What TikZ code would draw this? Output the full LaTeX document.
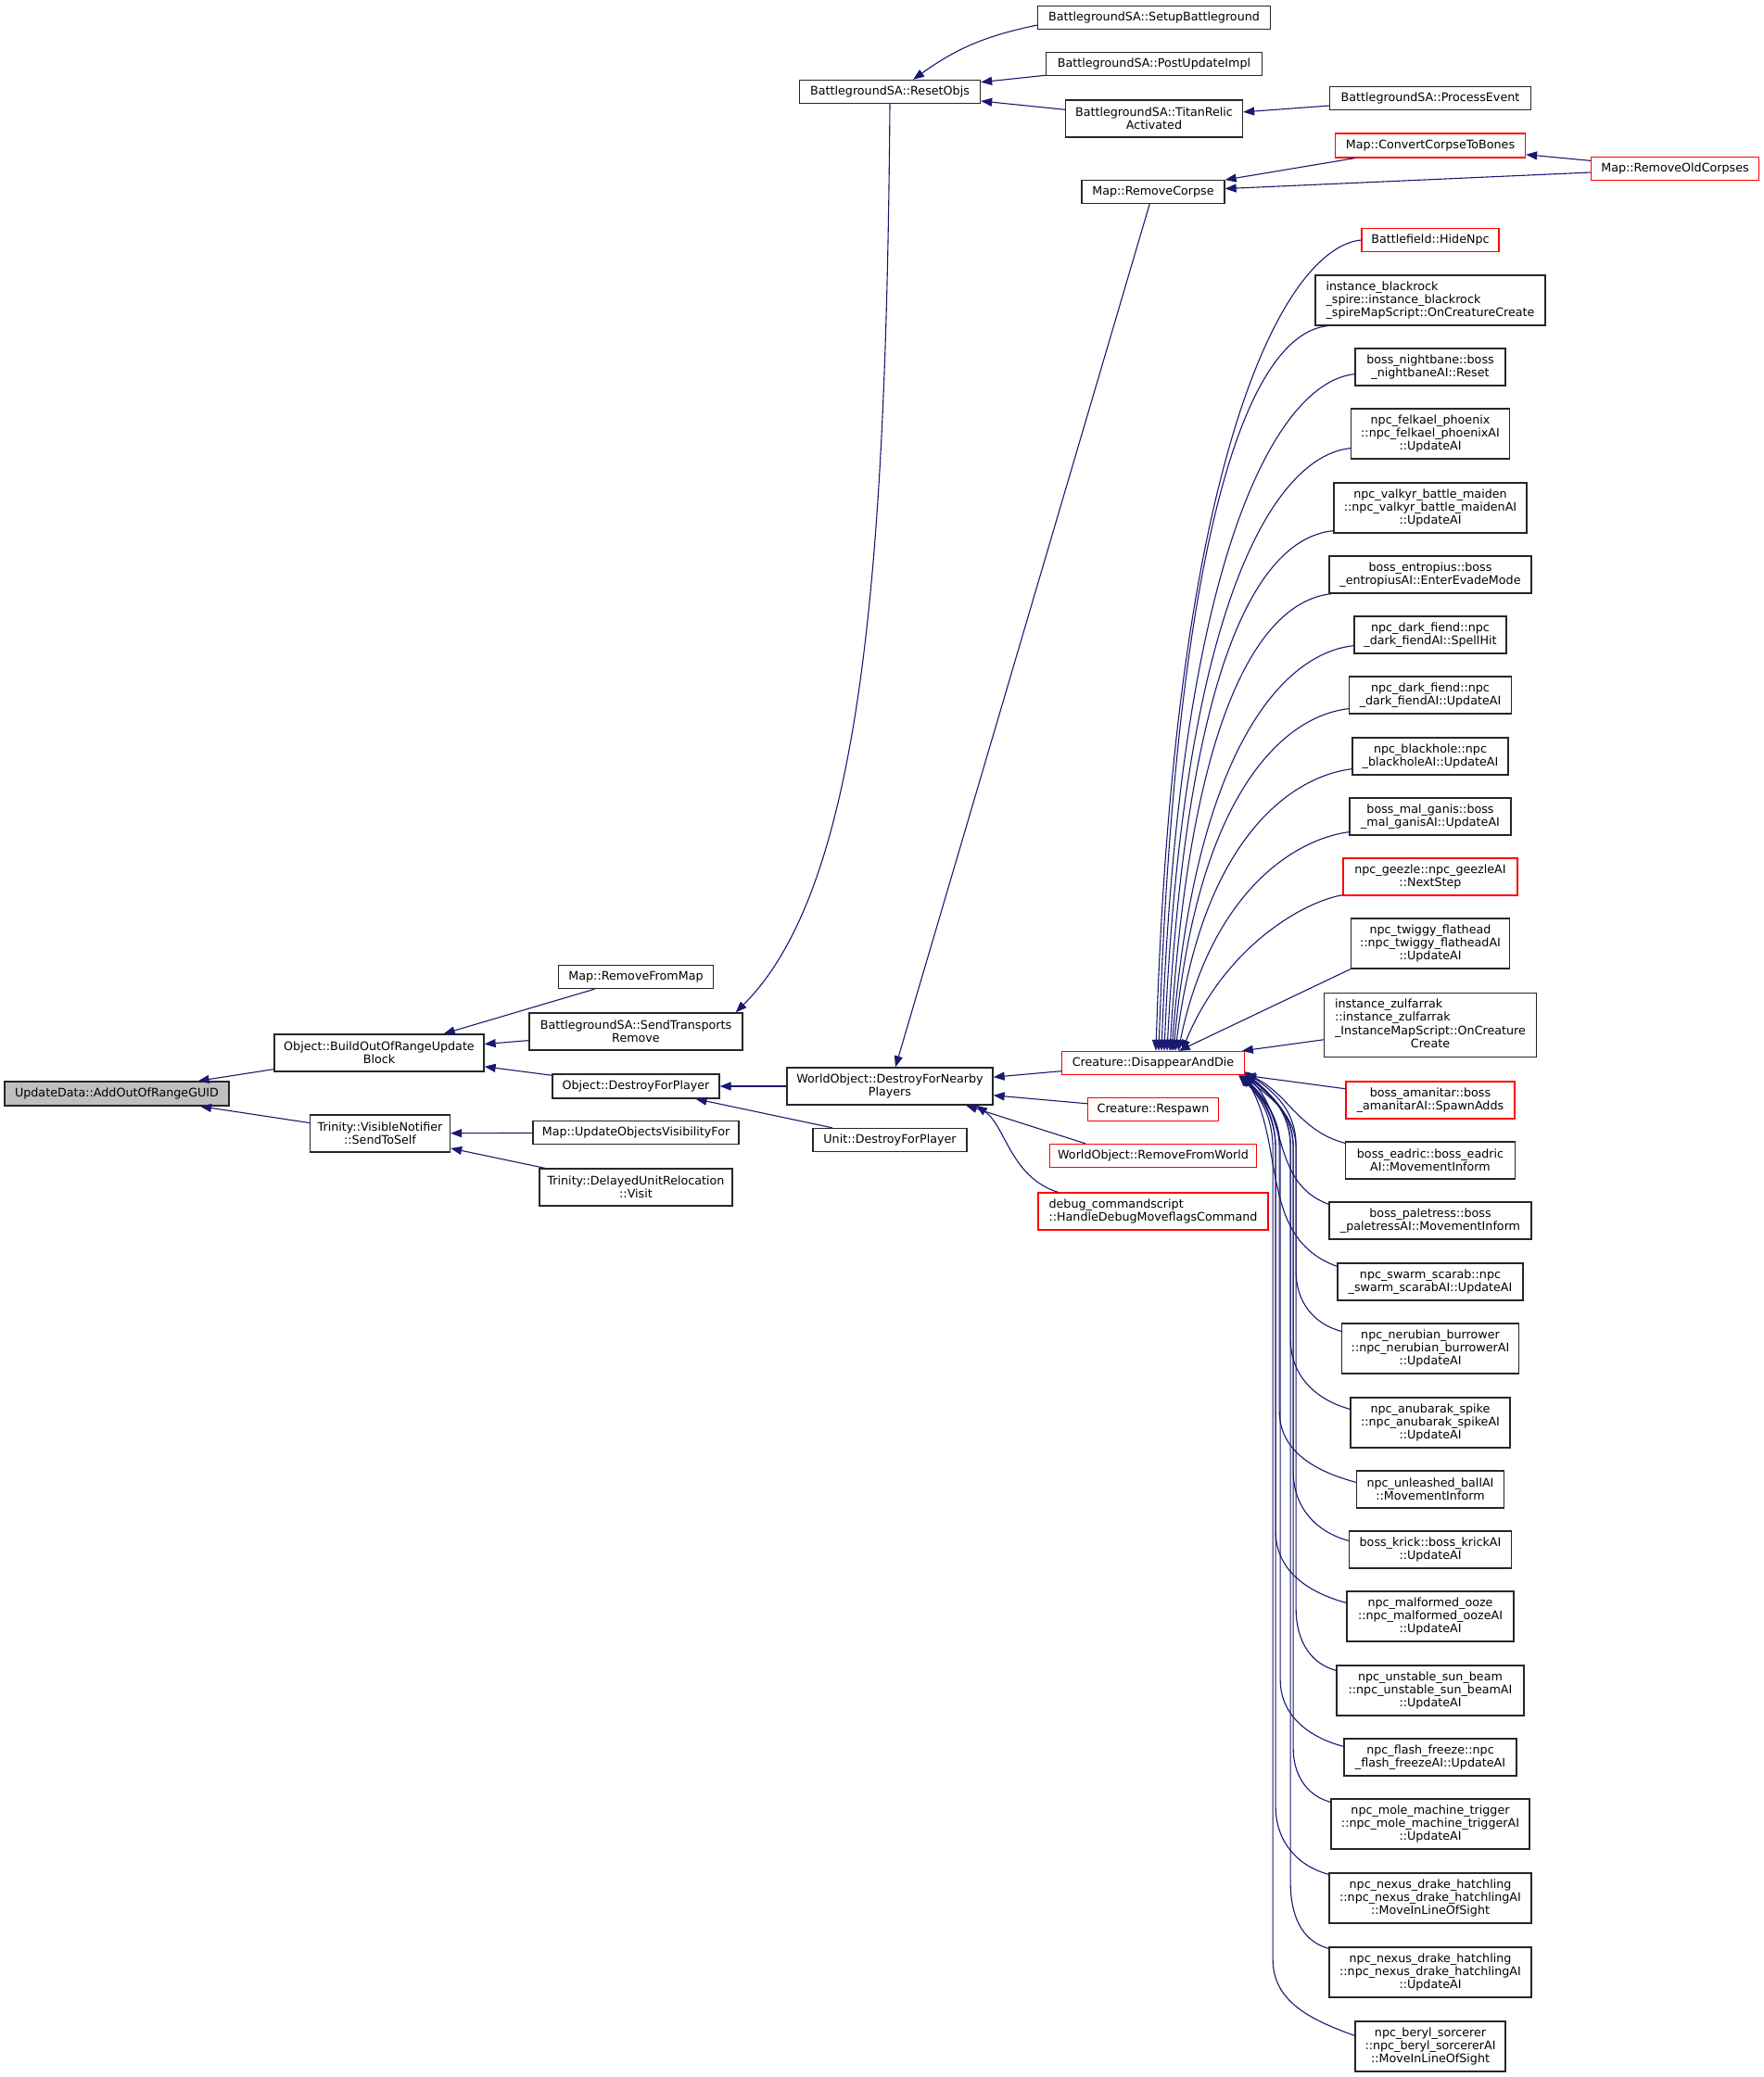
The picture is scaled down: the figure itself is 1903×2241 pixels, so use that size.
\documentclass[tikz,border=0pt]{standalone}
\usepackage{fontspec}
\setmainfont{DejaVu Sans}
\usetikzlibrary{arrows.meta}
\definecolor{edgeblue}{HTML}{191970}
\definecolor{rootgray}{HTML}{BFBFBF}

\begin{document}
\begin{tikzpicture}[x=1pt,y=-1pt,
  fn/.style={draw=black!85,line width=1.3pt,fill=white,inner sep=0pt,align=center,
    font=\fontsize{12.7}{14.3}\selectfont},
  fnred/.style={fn,draw=red},
  sz/.style 2 args={minimum width=#1pt,minimum height=#2pt},
  calls/.style={draw=edgeblue,line width=1.1pt,<-,>={Triangle[length=12pt,width=9pt]}}]
\useasboundingbox (0,0) rectangle (1903,2241);

\node[fn,fill=rootgray,sz={242}{26}] (ud) at (126,1180) {UpdateData::AddOutOfRangeGUID};
\node[fn,sz={226}{40}] (bo) at (409,1136) {Object::BuildOutOfRangeUpdate\\Block};
\node[fn,sz={151}{40}] (vn) at (410,1223) {Trinity::VisibleNotifier\\::SendToSelf};
\node[fn,sz={167}{25}] (rfm) at (686,1054) {Map::RemoveFromMap};
\node[fn,sz={230}{40}] (str) at (686,1113) {BattlegroundSA::SendTransports\\Remove};
\node[fn,sz={180}{26}] (dfp) at (686,1172) {Object::DestroyForPlayer};
\node[fn,sz={222}{25}] (uov) at (686,1222) {Map::UpdateObjectsVisibilityFor};
\node[fn,sz={208}{40}] (dur) at (686,1281) {Trinity::DelayedUnitRelocation\\::Visit};

\node[fn,sz={195}{25}] (ro) at (960,99) {BattlegroundSA::ResetObjs};
\node[fn,sz={251}{25}] (sb) at (1245,19) {BattlegroundSA::SetupBattleground};
\node[fn,sz={233}{25}] (pui) at (1245,69) {BattlegroundSA::PostUpdateImpl};
\node[fn,sz={191}{40}] (tra) at (1245,128) {BattlegroundSA::TitanRelic\\Activated};
\node[fn,sz={217}{25}] (pe) at (1543,106) {BattlegroundSA::ProcessEvent};
\node[fnred,sz={205}{26}] (ccb) at (1543,157) {Map::ConvertCorpseToBones};
\node[fnred,sz={181}{25}] (roc) at (1807,182) {Map::RemoveOldCorpses};
\node[fn,sz={154}{25}] (rc) at (1244,207) {Map::RemoveCorpse};
\node[fn,sz={222}{40}] (dfn) at (960,1172) {WorldObject::DestroyForNearby\\Players};
\node[fn,sz={166}{25}] (udfp) at (960,1230) {Unit::DestroyForPlayer};
\node[fnred,sz={197}{25}] (dad) at (1244,1147) {Creature::DisappearAndDie};
\node[fnred,sz={141}{25}] (rsp) at (1244,1197) {Creature::Respawn};
\node[fnred,sz={223}{25}] (rfw) at (1244,1247) {WorldObject::RemoveFromWorld};
\node[fnred,sz={248}{40},align=left] (dbg) at (1244,1307) {debug\_commandscript\\::HandleDebugMoveflagsCommand};

\node[fnred,sz={148}{25}] (hid) at (1543,259) {Battlefield::HideNpc};
\node[fn,sz={248}{54},align=left] (ibr) at (1543,324) {instance\_blackrock\\\_spire::instance\_blackrock\\\_spireMapScript::OnCreatureCreate};
\node[fn,sz={162}{40}] (nbn) at (1543,396) {boss\_nightbane::boss\\\_nightbaneAI::Reset};
\node[fn,sz={171}{54}] (fel) at (1543,468) {npc\_felkael\_phoenix\\::npc\_felkael\_phoenixAI\\::UpdateAI};
\node[fn,sz={208}{54}] (val) at (1543,548) {npc\_valkyr\_battle\_maiden\\::npc\_valkyr\_battle\_maidenAI\\::UpdateAI};
\node[fn,sz={218}{40}] (ent) at (1543,620) {boss\_entropius::boss\\\_entropiusAI::EnterEvadeMode};
\node[fn,sz={164}{40}] (dfs) at (1543,685) {npc\_dark\_fiend::npc\\\_dark\_fiendAI::SpellHit};
\node[fn,sz={175}{40}] (dfu) at (1543,750) {npc\_dark\_fiend::npc\\\_dark\_fiendAI::UpdateAI};
\node[fn,sz={168}{40}] (bkh) at (1543,816) {npc\_blackhole::npc\\\_blackholeAI::UpdateAI};
\node[fn,sz={174}{40}] (mgn) at (1543,881) {boss\_mal\_ganis::boss\\\_mal\_ganisAI::UpdateAI};
\node[fnred,sz={188}{40}] (gez) at (1543,946) {npc\_geezle::npc\_geezleAI\\::NextStep};
\node[fn,sz={171}{54}] (twg) at (1543,1018) {npc\_twiggy\_flathead\\::npc\_twiggy\_flatheadAI\\::UpdateAI};
\node[fn,sz={229}{69}] (zul) at (1543,1106) {\begin{tabular}{@{}l@{}}instance\_zulfarrak\\::instance\_zulfarrak\\\_InstanceMapScript::OnCreature\\\multicolumn{1}{@{}c@{}}{Create}\end{tabular}};
\node[fnred,sz={182}{40}] (ama) at (1543,1187) {boss\_amanitar::boss\\\_amanitarAI::SpawnAdds};
\node[fn,sz={183}{40}] (ead) at (1543,1252) {boss\_eadric::boss\_eadric\\AI::MovementInform};
\node[fn,sz={218}{40}] (pal) at (1543,1317) {boss\_paletress::boss\\\_paletressAI::MovementInform};
\node[fn,sz={200}{40}] (ssc) at (1543,1383) {npc\_swarm\_scarab::npc\\\_swarm\_scarabAI::UpdateAI};
\node[fn,sz={191}{54}] (nrb) at (1543,1455) {npc\_nerubian\_burrower\\::npc\_nerubian\_burrowerAI\\::UpdateAI};
\node[fn,sz={172}{54}] (anu) at (1543,1535) {npc\_anubarak\_spike\\::npc\_anubarak\_spikeAI\\::UpdateAI};
\node[fn,sz={159}{40}] (unb) at (1543,1607) {npc\_unleashed\_ballAI\\::MovementInform};
\node[fn,sz={175}{40}] (krk) at (1543,1672) {boss\_krick::boss\_krickAI\\::UpdateAI};
\node[fn,sz={180}{54}] (mal) at (1543,1744) {npc\_malformed\_ooze\\::npc\_malformed\_oozeAI\\::UpdateAI};
\node[fn,sz={202}{54}] (usb) at (1543,1824) {npc\_unstable\_sun\_beam\\::npc\_unstable\_sun\_beamAI\\::UpdateAI};
\node[fn,sz={186}{40}] (ffz) at (1543,1896) {npc\_flash\_freeze::npc\\\_flash\_freezeAI::UpdateAI};
\node[fn,sz={214}{54}] (mmt) at (1543,1968) {npc\_mole\_machine\_trigger\\::npc\_mole\_machine\_triggerAI\\::UpdateAI};
\node[fn,sz={218}{54}] (nxl) at (1543,2048) {npc\_nexus\_drake\_hatchling\\::npc\_nexus\_drake\_hatchlingAI\\::MoveInLineOfSight};
\node[fn,sz={218}{54}] (nxu) at (1543,2128) {npc\_nexus\_drake\_hatchling\\::npc\_nexus\_drake\_hatchlingAI\\::UpdateAI};
\node[fn,sz={162}{54}] (brl) at (1543,2208) {npc\_beryl\_sorcerer\\::npc\_beryl\_sorcererAI\\::MoveInLineOfSight};

\draw[calls] (ud) -- (bo);
\draw[calls] (ud) -- (vn);
\draw[calls] (bo) -- (rfm);
\draw[calls] (bo) -- (str);
\draw[calls] (bo) -- (dfp);
\draw[calls] (vn) -- (uov);
\draw[calls] (vn) -- (dur);
\draw[calls] (dfp) -- (dfn);
\draw[calls] (dfp) -- (udfp);
\draw[calls] ([xshift=-8pt]str.north east) .. controls (932,955) and (956,600) .. (ro.south);
\draw[calls] (ro) to[bend left=12] (sb);
\draw[calls] (ro) -- (pui);
\draw[calls] (ro) -- (tra);
\draw[calls] (tra) -- (pe);
\draw[calls] (rc) -- (ccb);
\draw[calls] (rc) -- (roc);
\draw[calls] (ccb) -- (roc);
\draw[calls] (dfn) -- (rc);
\draw[calls] (dfn) -- (dad);
\draw[calls] (dfn) -- (rsp);
\draw[calls] ([xshift=82pt]dfn.south) -- ([xshift=-73pt]rfw.north);
\draw[calls] ([xshift=93pt]dfn.south) .. controls (1085,1215) and (1090,1270) .. ([xshift=22pt]dbg.north west);

\draw[calls] ([xshift=3pt]dad.north) .. controls +(20,-656) and +(-80,8) .. (hid.west);
\draw[calls] ([xshift=6pt]dad.north) .. controls +(20,-587) and +(-80,8) .. ([xshift=14pt]ibr.south west);
\draw[calls] ([xshift=9pt]dad.north) .. controls +(20,-548) and +(-80,8) .. ([yshift=13pt]nbn.south west);
\draw[calls] ([xshift=12pt]dad.north) .. controls +(20,-488) and +(-80,8) .. ([yshift=12pt]fel.south west);
\draw[calls] ([xshift=15pt]dad.north) .. controls +(22,-422) and +(-80,8) .. ([yshift=3pt]val.south west);
\draw[calls] ([xshift=18pt]dad.north) .. controls +(22,-370) and +(-75,8) .. ([xshift=3pt]ent.south west);
\draw[calls] ([xshift=20pt]dad.north) .. controls +(25,-328) and +(-75,8) .. ([yshift=9pt]dfs.south west);
\draw[calls] ([xshift=22pt]dad.north) .. controls +(25,-278) and +(-70,8) .. ([yshift=6pt]dfu.south west);
\draw[calls] ([xshift=24pt]dad.north) .. controls +(28,-229) and +(-65,8) .. ([yshift=7pt]bkh.south west);
\draw[calls] ([xshift=27pt]dad.north) .. controls +(35,-170) and +(-60,8) .. ([yshift=4pt]mgn.south west);
\draw[calls] ([xshift=31pt]dad.north) .. controls +(45,-110) and +(-45,8) .. ([yshift=1pt]gez.south west);
\draw[calls] (dad) -- (twg.south west);
\draw[calls] (dad) -- (zul);
\draw[calls] (dad) -- (ama);

\draw[calls] ([yshift=2pt]dad.south east) to[out=-25,in=165] ([yshift=-2pt]ead.north west);
\draw[calls] ([yshift=1pt]dad.south east) to[out=-45,in=160] ([yshift=-3pt]pal.north west);
\draw[calls] ([xshift=-1pt]dad.south east) to[out=-60,in=160] ([yshift=-4pt]ssc.north west);
\draw[calls] ([xshift=-2pt]dad.south east) to[out=-40,in=90] ++(57,80) -- ++(0,132) to[out=-90,in=165] ([yshift=-9pt]nrb.north west);
\draw[calls] ([yshift=3pt]dad.south east) to[out=-40,in=90] ++(49,80) -- ++(0,208) to[out=-90,in=165] ([yshift=-13pt]anu.north west);
\draw[calls] ([xshift=-3pt]dad.south east) to[out=-45,in=90] ++(40,80) -- ++(0,282) to[out=-90,in=165] ([yshift=-13pt]unb.north west);
\draw[calls] ([yshift=2pt]dad.south east) to[out=-40,in=90] ++(52,80) -- ++(0,350) to[out=-90,in=165] ([yshift=-11pt]krk.north west);
\draw[calls] ([xshift=-4pt]dad.south east) to[out=-45,in=90] ++(37,80) -- ++(0,412) to[out=-90,in=165] ([yshift=-13pt]mal.north west);
\draw[calls] ([yshift=4pt]dad.south east) to[out=-35,in=90] ++(55,80) -- ++(0,500) to[out=-90,in=165] ([yshift=-6pt]usb.north west);
\draw[calls] ([xshift=-5pt]dad.south east) to[out=-45,in=90] ++(43,80) -- ++(0,572) to[out=-90,in=165] ([yshift=-9pt]ffz.north west);
\draw[calls] ([yshift=1pt]dad.south east) to[out=-40,in=90] ++(52,80) -- ++(0,647) to[out=-90,in=165] ([yshift=-4pt]mmt.north west);
\draw[calls] ([xshift=-6pt]dad.south east) to[out=-45,in=90] ++(39,80) -- ++(0,709) to[out=-90,in=165] ([yshift=-2pt]nxl.north west);
\draw[calls] ([yshift=3pt]dad.south east) to[out=-40,in=90] ++(49,80) -- ++(0,794) to[out=-90,in=165] ([yshift=-2pt]nxu.north west);
\draw[calls] ([xshift=-7pt]dad.south east) to[out=-45,in=90] ++(37,80) -- ++(0,874) to[out=-90,in=160] ([yshift=-16pt]brl.north west);
\end{tikzpicture}
\end{document}
